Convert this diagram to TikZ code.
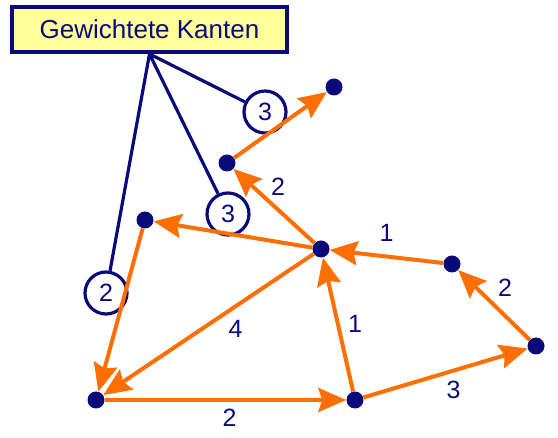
\documentclass[tikz,border=0pt]{standalone}
\usepackage{fontspec}
\setmainfont{Liberation Sans}
\usepackage{tikz}
\usetikzlibrary{arrows.meta}
\definecolor{navy}{RGB}{10,10,122}
\definecolor{orange}{RGB}{255,110,0}
\definecolor{gelb}{RGB}{255,255,153}

\begin{document}
\begin{tikzpicture}[x=1pt, y=-1pt, nodes={text=navy, font=\fontsize{25}{30}\selectfont},
  knoten/.style={circle, fill=navy, inner sep=0pt, minimum size=17pt},
  gewicht/.style={circle, draw=navy, line width=3.2pt, inner sep=0pt, minimum size=42pt},
  kante/.style={draw=orange, line width=4pt, -{Stealth[length=28pt, width=24pt, inset=4pt]}}]
\useasboundingbox (0, 0) rectangle (558, 438);

\node[draw=navy, fill=gelb, line width=4pt, minimum width=275pt, minimum height=45pt,
      font=\fontsize{26}{30}\selectfont] (titel) at (149.5, 29.5) {Gewichtete Kanten};

\node[knoten] (a) at (334, 87) {};
\node[knoten] (b) at (227, 163) {};
\node[knoten] (c) at (145, 220) {};
\node[knoten] (d) at (321, 249) {};
\node[knoten] (e) at (452, 264) {};
\node[knoten] (f) at (536, 346) {};
\node[knoten] (g) at (355, 400) {};
\node[knoten] (h) at (96, 400) {};

\node[gewicht] (w1) at (265, 112) {3};
\node[gewicht] (w2) at (228, 214) {3};
\node[gewicht] (w3) at (106, 293) {2};

\draw[navy, line width=3.2pt] (titel.south) -- (w1)
                              (titel.south) -- (w2)
                              (titel.south) -- (w3);

\draw[kante] (b) -- (a);
\draw[kante] (d) -- node[xshift=4pt, yshift=19pt] {2} (b);
\draw[kante] (d) -- (c);
\draw[kante] (c) -- (h);
\draw[kante] (d) -- node[xshift=27pt, yshift=-4pt] {4} (h);
\draw[kante] (h) -- node[xshift=4pt, yshift=-18pt] {2} (g);
\draw[kante] (g) -- node[xshift=17pt, yshift=1pt] {1} (d);
\draw[kante] (g) -- node[xshift=8pt, yshift=-17pt] {3} (f);
\draw[kante] (f) -- node[xshift=11pt, yshift=17pt] {2} (e);
\draw[kante] (e) -- node[yshift=24pt] {1} (d);
\end{tikzpicture}
\end{document}
